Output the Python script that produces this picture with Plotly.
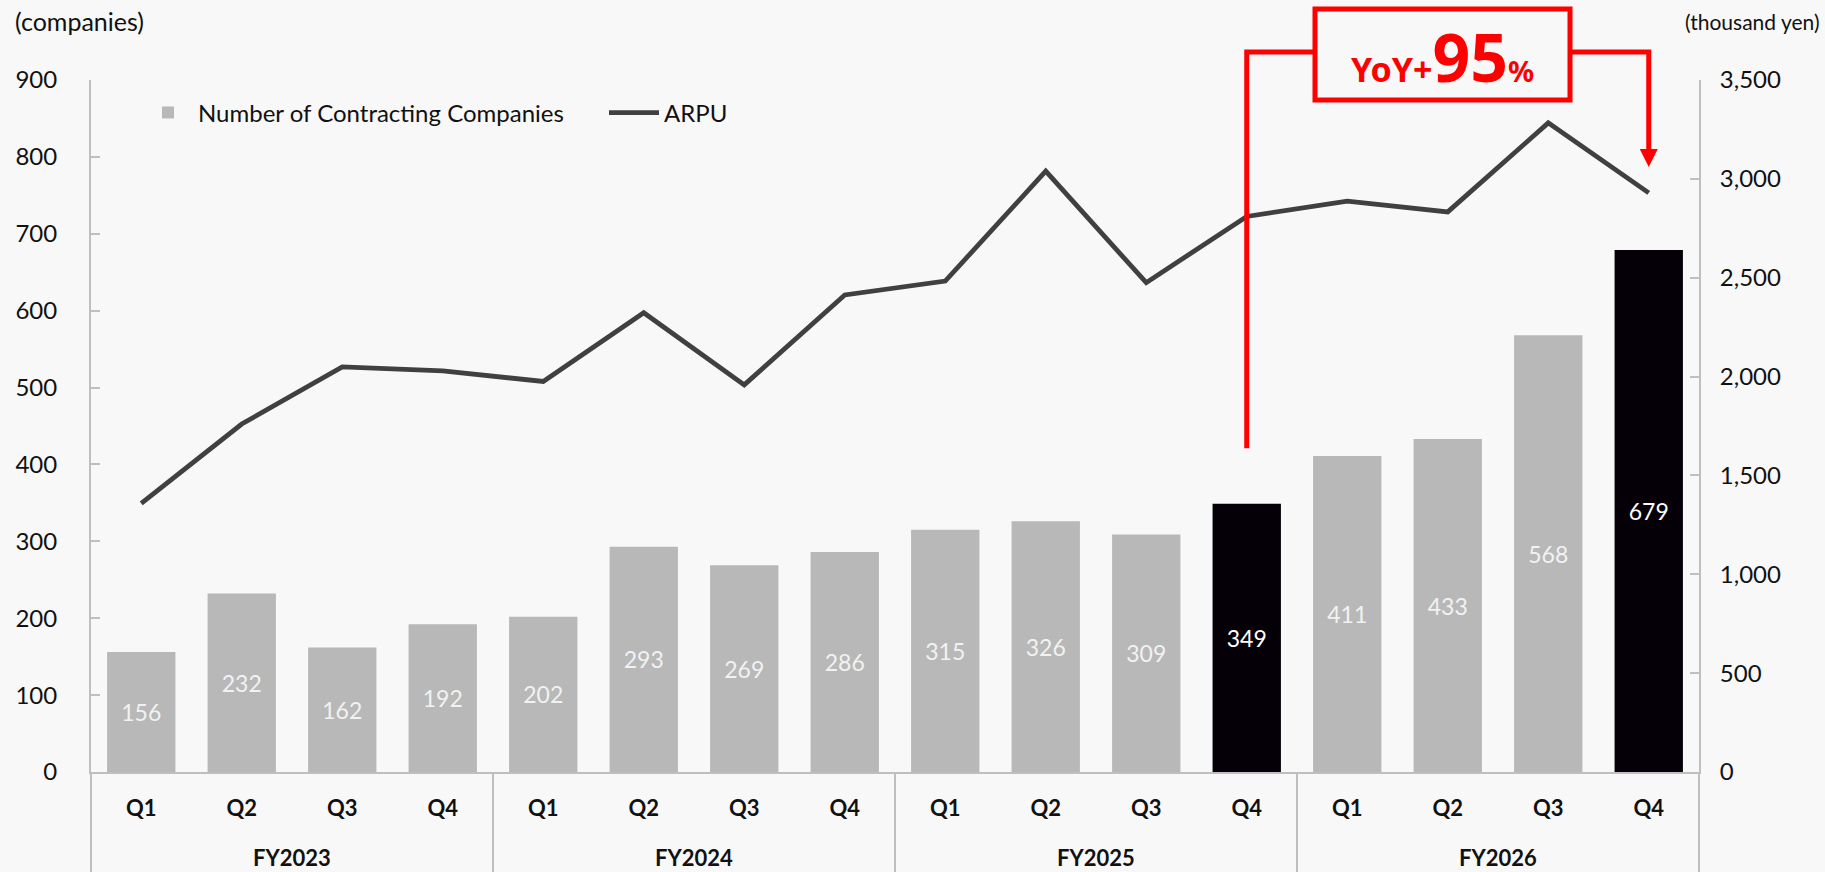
import plotly.graph_objects as go

fiscal_years = ["FY2023"] * 4 + ["FY2024"] * 4 + ["FY2025"] * 4 + ["FY2026"] * 4
quarters = ["Q1", "Q2", "Q3", "Q4"] * 4
companies = [156, 232, 162, 192, 202, 293, 269, 286, 315, 326, 309, 349, 411, 433, 568, 679]
arpu = [1359, 1760, 2049, 2029, 1975, 2323, 1958, 2413, 2483, 3039, 2475, 2810, 2887, 2833, 3283, 2929]
highlight = [("FY2025", "Q4"), ("FY2026", "Q4")]
yoy_text = ("YoY+", "95", "%")

W, H = 1825, 872
ML, MR, MT, MB = 91, 126, 80, 100
PW, PH = W - ML - MR, H - MT - MB
FONT = "Lato"
GRAY_AX = "#BFBFBF"
RED = "#FF0000"
TXT = "#111111"

keys = [f"{f} {q}" for f, q in zip(fiscal_years, quarters)]
n = len(keys)

bar_colors = ["#050008" if (f, q) in highlight else "#B8B8B8" for f, q in zip(fiscal_years, quarters)]
text_colors = ["#FFFFFF" if (f, q) in highlight else "#F2F2F2" for f, q in zip(fiscal_years, quarters)]

fig = go.Figure()
fig.add_trace(go.Bar(
    x=keys, y=companies, name="Number of Contracting Companies",
    marker=dict(color=bar_colors, line=dict(width=0)),
    text=[str(v) for v in companies], textposition="inside", insidetextanchor="middle",
    textfont=dict(family=FONT, size=23, color=text_colors), constraintext="none",
    hoverinfo="skip",
))
fig.add_trace(go.Scatter(
    x=keys, y=arpu, name="ARPU", yaxis="y2", mode="lines",
    line=dict(color="#404040", width=4.8), hoverinfo="skip",
))


def xp(i):
    return (i + 0.5) / n


def ypx(px):
    return (H - MB - px) / PH


i_prev = keys.index(" ".join(highlight[0]))
i_cur = keys.index(" ".join(highlight[1]))

box_l = (1315 - ML) / PW
box_r = (1570 - ML) / PW
box_t = ypx(9)
box_b = ypx(100)
y_h = ypx(52)
y_left_bottom = 421 / 900
tip = ypx(167)
head_len = 18 / PH
head_half = 9 / PW

shapes = [
    dict(type="path", xref="paper", yref="paper",
         path=f"M {xp(i_prev)},{y_left_bottom} L {xp(i_prev)},{y_h} L {box_l},{y_h}",
         line=dict(color=RED, width=5)),
    dict(type="rect", xref="paper", yref="paper", x0=box_l, x1=box_r, y0=box_b, y1=box_t,
         line=dict(color=RED, width=5), fillcolor="rgba(0,0,0,0)"),
    dict(type="path", xref="paper", yref="paper",
         path=f"M {box_r},{y_h} L {xp(i_cur)},{y_h} L {xp(i_cur)},{tip + head_len * 0.9}",
         line=dict(color=RED, width=5)),
    dict(type="path", xref="paper", yref="paper",
         path=f"M {xp(i_cur) - head_half},{tip + head_len} L {xp(i_cur) + head_half},{tip + head_len} L {xp(i_cur)},{tip} Z",
         line=dict(color=RED, width=0), fillcolor=RED),
]

# group dividers and fiscal-year labels below the quarter labels
groups = []
for i, f in enumerate(fiscal_years):
    if not groups or groups[-1][0] != f:
        groups.append([f, i, i])
    else:
        groups[-1][2] = i
bottom = ypx(H)
boundaries = [g[1] / n for g in groups] + [(groups[-1][2] + 1) / n]
for b in boundaries:
    shapes.append(dict(type="line", xref="paper", yref="paper", x0=b, x1=b, y0=0, y1=bottom,
                       line=dict(color=GRAY_AX, width=2), layer="below"))

annotations = [
    dict(xref="paper", yref="paper", x=(box_l + box_r) / 2, y=ypx(80), showarrow=False,
         text=(f"<b>{yoy_text[0]}<span style='font-size:66px'>{yoy_text[1]}</span>"
               f"<span style='font-size:29px'>{yoy_text[2]}</span></b>"),
         font=dict(family="Noto Sans", size=34, color=RED), xanchor="center", yanchor="bottom",
         yshift=-23),
    dict(xref="paper", yref="paper", x=(13 - ML) / PW, y=ypx(21), showarrow=False,
         text="(companies)", font=dict(family=FONT, size=25, color=TXT),
         xanchor="left", yanchor="middle"),
    dict(xref="paper", yref="paper", x=(1822 - ML) / PW, y=ypx(21), showarrow=False,
         text="(thousand yen)", font=dict(family=FONT, size=21, color=TXT),
         xanchor="right", yanchor="middle"),
]
for f, a, b in groups:
    annotations.append(dict(xref="paper", yref="paper", x=((a + b) / 2 + 0.5) / n, y=ypx(858),
                            showarrow=False, text=f"<b>{f}</b>",
                            font=dict(family=FONT, size=22, color=TXT),
                            xanchor="center", yanchor="middle"))

fig.update_layout(
    width=W, height=H, autosize=False,
    margin=dict(l=ML, r=MR, t=MT, b=MB, pad=0),
    paper_bgcolor="#F8F8F8", plot_bgcolor="#F8F8F8",
    font=dict(family=FONT, size=24, color=TXT),
    bargap=0.32,
    showlegend=True,
    legend=dict(orientation="h", x=(138 - ML) / PW, y=ypx(113), xanchor="left", yanchor="middle",
                bgcolor="rgba(0,0,0,0)", font=dict(family=FONT, size=24, color=TXT),
                itemwidth=50, traceorder="normal", entrywidth=401, entrywidthmode="pixels"),
    xaxis=dict(type="category", categoryorder="array", categoryarray=keys,
               tickvals=keys, ticktext=quarters, showline=True, linecolor=GRAY_AX, linewidth=2,
               showgrid=False, ticks="", ticklabelstandoff=16,
               tickfont=dict(family=FONT, size=22, color=TXT, weight="bold")),
    yaxis=dict(range=[0, 900], dtick=100, showgrid=False, zeroline=False, showline=True,
               linecolor=GRAY_AX, linewidth=2, ticks="inside", ticklen=9, tickcolor=GRAY_AX,
               tickwidth=2, ticklabelstandoff=27, tickfont=dict(family=FONT, size=24, color=TXT)),
    yaxis2=dict(range=[0, 3500], dtick=500, overlaying="y", side="right", showgrid=False,
                zeroline=False, showline=True, linecolor=GRAY_AX, linewidth=2, ticks="inside",
                ticklen=9, tickcolor=GRAY_AX, tickwidth=2, tickformat=",", ticklabelstandoff=14,
                tickfont=dict(family=FONT, size=24, color=TXT)),
    shapes=shapes,
    annotations=annotations,
)

fig.write_html("out.html", config={"displayModeBar": False},
               post_script="document.body.style.margin='0px';document.body.style.background='#F8F8F8';")
